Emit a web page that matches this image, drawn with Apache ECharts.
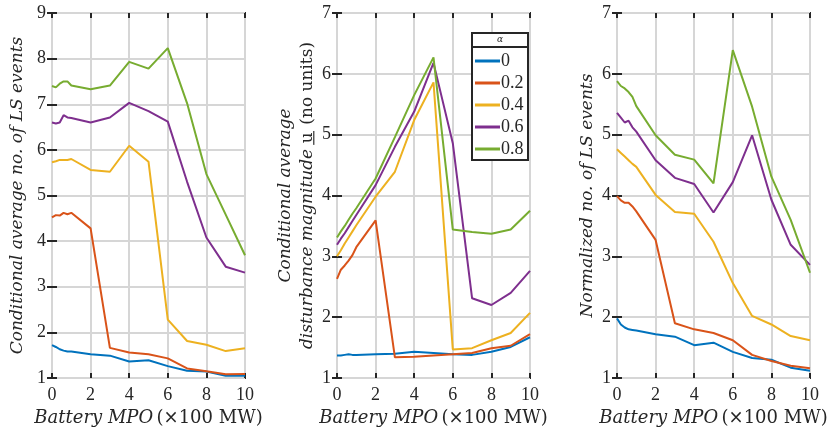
<!DOCTYPE html>
<html>
<head>
<meta charset="utf-8">
<script src="https://cdn.jsdelivr.net/npm/echarts@6/dist/echarts.min.js"></script>
<style>
  html, body { margin: 0; padding: 0; background: #fff; }
  #chart { width: 832px; height: 432px; }
</style>
</head>
<body>
<div id="chart"></div>
<script>
// battery MPO (x100 MW)
const mpo = [0, 0.2, 0.4, 0.6, 0.8, 1, 2, 3, 4, 5, 6, 7, 8, 9, 10]
const alphas = ['0', '0.2', '0.4', '0.6', '0.8']

// left: conditional average no. of LS events
const avgEvents0 = [1.72, 1.68, 1.63, 1.60, 1.58, 1.58, 1.52, 1.49, 1.36, 1.39, 1.26, 1.16, 1.14, 1.05, 1.05]
const avgEvents02 = [4.52, 4.57, 4.56, 4.62, 4.59, 4.62, 4.28, 1.66, 1.56, 1.52, 1.43, 1.21, 1.15, 1.08, 1.09]
const avgEvents04 = [5.73, 5.75, 5.78, 5.78, 5.78, 5.80, 5.56, 5.52, 6.09, 5.74, 2.28, 1.81, 1.73, 1.59, 1.65]
const avgEvents06 = [6.60, 6.58, 6.60, 6.76, 6.71, 6.70, 6.60, 6.71, 7.03, 6.85, 6.62, 5.30, 4.08, 3.44, 3.31]
const avgEvents08 = [7.40, 7.37, 7.45, 7.50, 7.50, 7.41, 7.33, 7.41, 7.93, 7.78, 8.23, 7.02, 5.47, 4.58, 3.69]

// middle: conditional average disturbance magnitude
const avgMag0 = [1.37, 1.37, 1.38, 1.39, 1.38, 1.38, 1.39, 1.40, 1.43, 1.41, 1.39, 1.38, 1.43, 1.51, 1.67]
const avgMag02 = [2.63, 2.78, 2.85, 2.93, 3.02, 3.15, 3.59, 1.34, 1.35, 1.37, 1.39, 1.41, 1.49, 1.53, 1.72]
const avgMag04 = [3.00, 3.10, 3.21, 3.31, 3.41, 3.51, 3.98, 4.39, 5.24, 5.86, 1.47, 1.49, 1.62, 1.74, 2.07]
const avgMag06 = [3.19, 3.29, 3.38, 3.48, 3.58, 3.68, 4.17, 4.80, 5.38, 6.18, 4.86, 2.31, 2.20, 2.40, 2.76]
const avgMag08 = [3.31, 3.41, 3.50, 3.60, 3.70, 3.79, 4.28, 4.96, 5.65, 6.27, 3.44, 3.40, 3.37, 3.44, 3.75]

// right: normalized no. of LS events
const normEvents0 = [1.98, 1.88, 1.83, 1.80, 1.79, 1.78, 1.72, 1.68, 1.54, 1.58, 1.43, 1.33, 1.30, 1.17, 1.12]
const normEvents02 = [3.99, 3.92, 3.88, 3.88, 3.82, 3.74, 3.27, 1.90, 1.80, 1.74, 1.62, 1.38, 1.28, 1.20, 1.16]
const normEvents04 = [4.76, 4.70, 4.64, 4.58, 4.52, 4.47, 4.01, 3.73, 3.70, 3.24, 2.56, 2.02, 1.88, 1.69, 1.62]
const normEvents06 = [5.36, 5.28, 5.20, 5.23, 5.12, 5.05, 4.58, 4.29, 4.19, 3.72, 4.22, 4.99, 3.93, 3.19, 2.86]
const normEvents08 = [5.88, 5.80, 5.76, 5.70, 5.62, 5.47, 4.99, 4.67, 4.59, 4.20, 6.39, 5.46, 4.31, 3.60, 2.73]

const colors = ['#0072BD', '#D95319', '#EDB120', '#7E2F8E', '#77AC30']
const ink = '#262626'
const gridColor = '#d6d6d6'
const font = 'DejaVu Serif'
const numFont = 'Liberation Serif'

const panels = [
  [avgEvents0, avgEvents02, avgEvents04, avgEvents06, avgEvents08],
  [avgMag0, avgMag02, avgMag04, avgMag06, avgMag08],
  [normEvents0, normEvents02, normEvents04, normEvents06, normEvents08]
]
const yMax = [9, 7, 7]
const gridLeft = [52, 337, 617]

// underline for the "u" in the middle title
const ul = document.createElement('canvas')
ul.width = 20
ul.height = 22
const ulCtx = ul.getContext('2d')
ulCtx.fillStyle = ink
ulCtx.fillRect(1, 19, 18, 1.4)

const rich = {
  i: { fontFamily: font, fontStyle: 'italic', fontSize: 17, color: ink },
  n: { fontFamily: font, fontSize: 17, color: ink },
  u: { fontFamily: font, fontSize: 17, color: ink, backgroundColor: { image: ul } }
}
const xRich = {
  i: { fontFamily: font, fontStyle: 'italic', fontSize: 18, color: ink },
  n: { fontFamily: font, fontSize: 18, color: ink }
}
const yNames = [
  '{i|Conditional average no. of LS events}',
  '{i|Conditional average}\n{i|disturbance magnitude} {u|u}{n| (no units)}',
  '{i|Normalized no. of LS events}'
]
const yGaps = [23, 18, 18]

const grids = []
const xAxes = []
const yAxes = []
const series = []

for (let p = 0; p < 3; p++) {
  grids.push({
    left: gridLeft[p], top: 13, width: 193, height: 365,
    show: true, borderColor: ink, borderWidth: 2, backgroundColor: 'transparent'
  })
  const tick = { show: true, inside: true, length: 5, lineStyle: { color: ink, width: 2 } }
  xAxes.push({
    gridIndex: p, type: 'value', min: 0, max: 10, interval: 2,
    axisLine: { show: false }, axisTick: tick,
    axisLabel: { color: ink, fontFamily: numFont, fontSize: 18, margin: 8 },
    splitLine: { show: true, lineStyle: { color: gridColor, width: 2 } },
    name: '{i|Battery MPO} {n|(\u00d7100 MW)}',
    nameLocation: 'middle', nameGap: 24,
    nameTextStyle: { rich: xRich }
  })
  xAxes.push({
    gridIndex: p, type: 'value', min: 0, max: 10, interval: 2, position: 'top',
    axisLine: { show: false }, axisTick: tick, axisLabel: { show: false },
    splitLine: { show: false }
  })
  yAxes.push({
    gridIndex: p, type: 'value', min: 1, max: yMax[p], interval: 1,
    axisLine: { show: false }, axisTick: tick,
    axisLabel: { color: ink, fontFamily: numFont, fontSize: 18, margin: 6 },
    splitLine: { show: true, lineStyle: { color: gridColor, width: 2 } },
    name: yNames[p], nameLocation: 'middle', nameGap: yGaps[p],
    nameTextStyle: { rich: rich, lineHeight: 22 }
  })
  yAxes.push({
    gridIndex: p, type: 'value', min: 1, max: yMax[p], interval: 1, position: 'right',
    axisLine: { show: false }, axisTick: tick, axisLabel: { show: false },
    splitLine: { show: false }
  })
  for (let s = 0; s < 5; s++) {
    series.push({
      name: alphas[s],
      type: 'line',
      xAxisIndex: p * 2,
      yAxisIndex: p * 2,
      symbol: 'none',
      animation: false,
      lineStyle: { width: 2, color: colors[s] },
      itemStyle: { color: colors[s] },
      data: mpo.map((x, i) => [x, panels[p][s][i]])
    })
  }
}

const chart = echarts.init(document.getElementById('chart'))
chart.setOption({
  backgroundColor: '#fff',
  animation: false,
  grid: grids,
  xAxis: xAxes,
  yAxis: yAxes,
  series: series,
  legend: {
    data: alphas,
    orient: 'vertical',
    left: 475, top: 52,
    padding: 0,
    icon: 'rect',
    itemWidth: 25, itemHeight: 3, itemGap: 4,
    textStyle: { fontFamily: numFont, fontSize: 18, color: ink, padding: [0, 0, 0, -4] },
    z: 6
  },
  graphic: [
    {
      type: 'rect', z: 5,
      shape: { x: 472, y: 33, width: 56, height: 127 },
      style: { fill: '#fff', stroke: ink, lineWidth: 2 }
    },
    {
      type: 'line', z: 5,
      shape: { x1: 472, y1: 47, x2: 528, y2: 47 },
      style: { stroke: ink, lineWidth: 2 }
    },
    {
      type: 'text', z: 6, x: 500, y: 40,
      style: { text: '\u03b1', fontFamily: font, fontStyle: 'italic', fontSize: 9, fill: ink, align: 'center', verticalAlign: 'middle' }
    }
  ]
})
</script>
</body>
</html>
